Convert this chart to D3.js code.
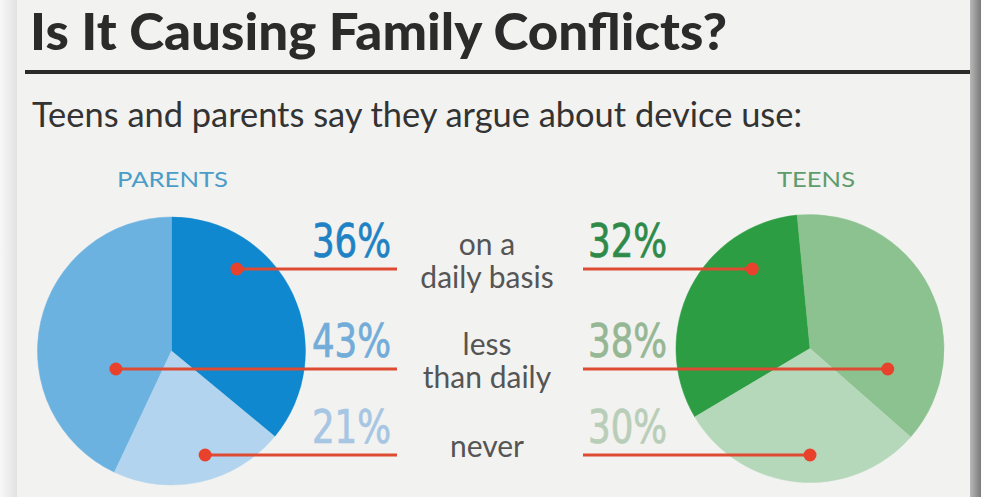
<!DOCTYPE html>
<html>
<head>
<meta charset="utf-8">
<script src="https://cdn.jsdelivr.net/npm/d3@7"></script>
<style>
  body { margin: 0; background: #f2f2f0; }
  svg { display: block; }
</style>
</head>
<body>
<svg></svg>
<script>
// Dimensions
var width = 981;
var height = 497;
var radius = 134;

// Data
var categories = ['daily', 'less', 'never'];
var categoryLabels = [['on a', 'daily basis'], ['less', 'than daily'], ['never']];
var parentValues = [36, 43, 21];
var teenValues = [32, 38, 30];
var groupNames = ['PARENTS', 'TEENS'];
var titleText = 'Is It Causing Family Conflicts?';
var subtitleText = 'Teens and parents say they argue about device use:';

// Colours, one per category
var parentColors = ['#0f88cf', '#6cb2e1', '#b3d4ee'];
var parentTextColors = ['#1f82c4', '#72acd8', '#a7c6e3'];
var teenColors = ['#2c9d42', '#8cc28f', '#b6d8ba'];
var teenTextColors = ['#2f8a4a', '#95b794', '#b9ceb8'];
var red = '#dd4b32';

// Creates canvas
var svg = d3.select('svg')
  .attr('width', width)
  .attr('height', height);

var defs = svg.append('defs');
var rightShade = defs.append('linearGradient').attr('id', 'rightShade');
rightShade.append('stop').attr('offset', '0%').attr('stop-color', '#b9b9b9');
rightShade.append('stop').attr('offset', '100%').attr('stop-color', '#7a7a7a');
var leftShade = defs.append('linearGradient').attr('id', 'leftShade');
leftShade.append('stop').attr('offset', '0%').attr('stop-color', '#f7f7f7');
leftShade.append('stop').attr('offset', '100%').attr('stop-color', '#e2e2e2');

// Paper and page edges
svg.append('rect').attr('width', width).attr('height', height).attr('fill', '#f2f2f0');
svg.append('rect').attr('width', 17).attr('height', height).attr('fill', 'url(#leftShade)');
svg.append('rect').attr('x', 970).attr('width', 11).attr('height', height).attr('fill', 'url(#rightShade)');

// Title, rule and subtitle
svg.append('text')
  .attr('x', 30)
  .attr('y', 50)
  .attr('font-family', 'Lato, sans-serif')
  .attr('font-weight', 900)
  .attr('font-size', 52)
  .attr('fill', '#2b2b2b')
  .attr('textLength', 697)
  .attr('lengthAdjust', 'spacingAndGlyphs')
  .text(titleText);

svg.append('line')
  .attr('x1', 25).attr('x2', 970)
  .attr('y1', 72).attr('y2', 72)
  .attr('stroke', '#2b2b2b')
  .attr('stroke-width', 4);

svg.append('text')
  .attr('x', 32)
  .attr('y', 127)
  .attr('font-family', 'Lato, sans-serif')
  .attr('font-size', 35)
  .attr('fill', '#333')
  .attr('textLength', 770)
  .attr('lengthAdjust', 'spacingAndGlyphs')
  .text(subtitleText);

// Row positions shared by both pies
var rowY = d3.scaleOrdinal()
  .domain(categories)
  .range([269, 369, 455]);

var arc = d3.arc()
  .innerRadius(0)
  .outerRadius(radius);

// Middle text for each category
categories.forEach(function (c, i) {
  var lines = categoryLabels[i];
  svg.append('text')
    .attr('text-anchor', 'middle')
    .attr('font-family', 'Lato, sans-serif')
    .attr('font-size', 30)
    .attr('fill', '#555')
    .selectAll('tspan')
    .data(lines)
    .enter()
    .append('tspan')
      .attr('x', 487)
      .attr('y', function (d, j) { return rowY(c) + 2 - (lines.length - 1) * 16.5 + j * 33; })
      .text(function (d) { return d; });
});

// Finds a point inside the slice along a horizontal row
// (frac = 0 is the left end of the chord, 1 the right end)
function dotX (slice, cx, cy, y, frac) {
  var xs = [];
  for (var x = cx - radius; x <= cx + radius; x += 0.5) {
    var dx = x - cx;
    var dy = y - cy;
    if (dx * dx + dy * dy > radius * radius) continue;
    var a = Math.atan2(dx, -dy);
    while (a < slice.startAngle) a += 2 * Math.PI;
    while (a >= slice.startAngle + 2 * Math.PI) a -= 2 * Math.PI;
    if (a <= slice.endAngle) xs.push(x);
  }
  var lo = d3.min(xs);
  var hi = d3.max(xs);
  return lo + (hi - lo) * frac;
}

// DRAW ONE PIE WITH ITS LEADER LINES
function drawPie (opts) {
  var data = categories.map(function (c, i) {
    return {key: c, value: opts.values[i], color: opts.colors[i], textColor: opts.textColors[i]};
  });

  var pie = d3.pie()
    .value(function (d) { return d.value; })
    .sort(function (a, b) { return opts.order.indexOf(a.key) - opts.order.indexOf(b.key); })
    .startAngle(opts.start)
    .endAngle(opts.start + 2 * Math.PI);

  var slices = pie(data);

  var g = svg.append('g')
    .attr('transform', 'translate(' + opts.cx + ',' + opts.cy + ')');

  g.selectAll('path')
    .data(slices)
    .enter()
    .append('path')
      .attr('d', arc)
      .attr('fill', function (d) { return d.data.color; })
      .attr('stroke', function (d) { return d.data.color; })
      .attr('stroke-width', 0.5);

  // Group name above the pie
  svg.append('text')
    .attr('x', opts.labelX)
    .attr('y', 187)
    .attr('text-anchor', 'middle')
    .attr('font-family', 'Lato, sans-serif')
    .attr('font-size', 22)
    .attr('fill', opts.nameColor)
    .attr('textLength', opts.nameWidth)
    .attr('lengthAdjust', 'spacingAndGlyphs')
    .text(opts.name);

  slices.forEach(function (s) {
    var y = rowY(s.data.key);
    var x = dotX(s, opts.cx, opts.cy, y, opts.dotFrac);

    svg.append('line')
      .attr('x1', x).attr('x2', opts.lineEnd)
      .attr('y1', y).attr('y2', y)
      .attr('stroke', red)
      .attr('stroke-width', 3);

    svg.append('circle')
      .attr('cx', x)
      .attr('cy', y)
      .attr('r', 6.5)
      .attr('fill', '#e8412c');

    // Narrowed percentage figures
    svg.append('text')
      .attr('transform', 'translate(' + opts.textX + ',' + (y - 12) + ') scale(0.86,1)')
      .attr('text-anchor', opts.anchor)
      .attr('font-family', '"DejaVu Sans Condensed", "DejaVu Sans", sans-serif')
      .attr('font-stretch', 'condensed')
      .attr('font-size', 46)
      .attr('fill', s.data.textColor)
      .attr('stroke', s.data.textColor)
      .attr('stroke-width', 0.7)
      .text(s.data.value + '%');
  });
}

drawPie({
  values: parentValues,
  colors: parentColors,
  textColors: parentTextColors,
  order: ['daily', 'never', 'less'],
  start: 0,
  cx: 171.5,
  cy: 351,
  lineEnd: 397,
  textX: 391,
  anchor: 'end',
  dotFrac: 0.62,
  name: groupNames[0],
  nameColor: '#4a9dc8',
  labelX: 172.5,
  nameWidth: 111
});

drawPie({
  values: teenValues,
  colors: teenColors,
  textColors: teenTextColors,
  order: ['daily', 'less', 'never'],
  start: -120.7 * Math.PI / 180,
  cx: 810,
  cy: 348.5,
  lineEnd: 583,
  textX: 588,
  anchor: 'start',
  dotFrac: 0.5,
  name: groupNames[1],
  nameColor: '#5e9c6c',
  labelX: 816,
  nameWidth: 78
});
</script>
</body>
</html>
